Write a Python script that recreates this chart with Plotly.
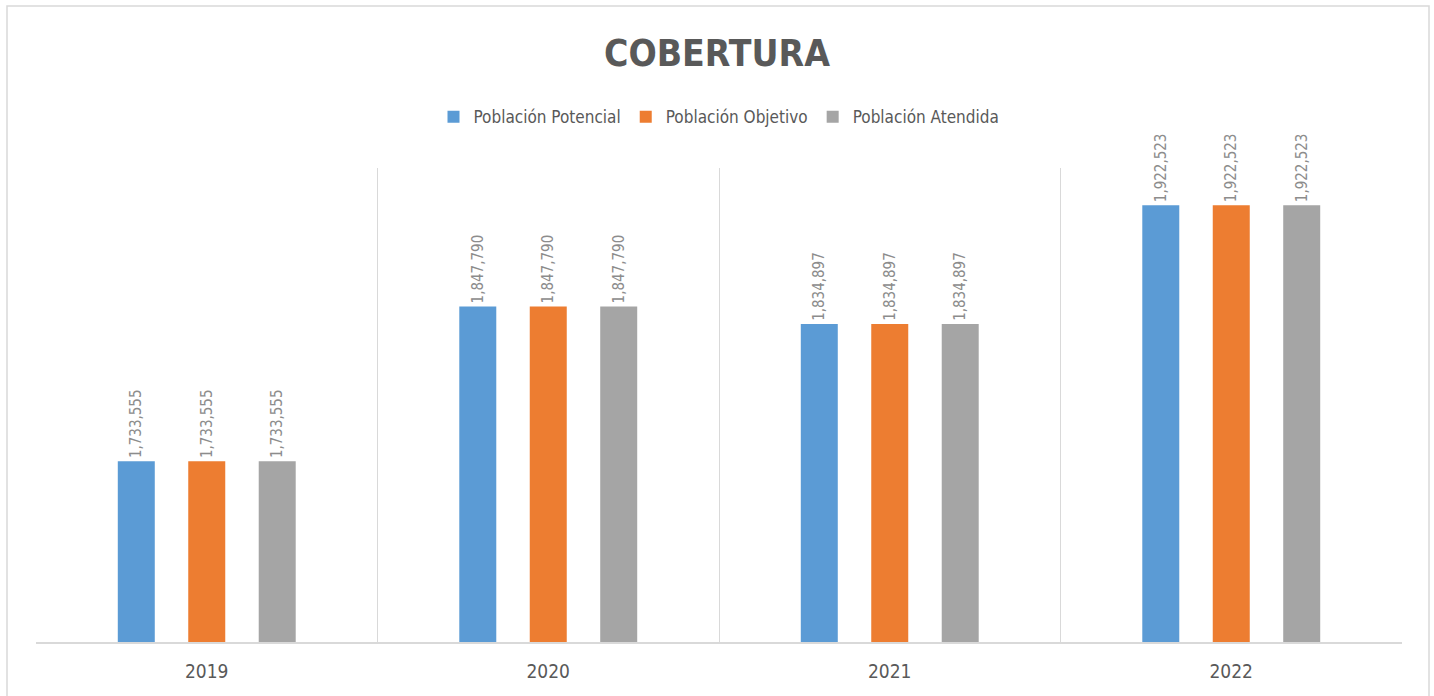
import plotly.graph_objects as go

years = ["2019", "2020", "2021", "2022"]
series_names = ["Población Potencial", "Población Objetivo", "Población Atendida"]
potencial = [1733555, 1847790, 1834897, 1922523]
objetivo = [1733555, 1847790, 1834897, 1922523]
atendida = [1733555, 1847790, 1834897, 1922523]
colors = ["#5B9BD5", "#ED7D31", "#A5A5A5"]

FONT = "DejaVu Sans Condensed, DejaVu Sans, sans-serif"

fig = go.Figure()
for name, vals, col in zip(series_names, [potencial, objetivo, atendida], colors):
    fig.add_trace(go.Bar(
        x=years, y=vals, name=name, marker_color=col, marker_line_width=0,
        text=[f"{v:,}" for v in vals], textposition="outside", textangle=-90,
        constraintext="none",
        textfont=dict(family=FONT, size=15, color="#8C8C8C"),
        cliponaxis=False,
    ))

fig.update_layout(
    width=1434, height=696,
    margin=dict(l=36, r=32, t=168, b=54),
    paper_bgcolor="white", plot_bgcolor="white",
    barmode="group", bargap=0.381, bargroupgap=0.475,
    title=dict(text="<b>COBERTURA</b>", x=0.5, xanchor="center", y=0.924, yanchor="middle",
               font=dict(family=FONT, size=37, color="#595959")),
    legend=dict(orientation="h", x=0.5, xanchor="center", y=1.107, yanchor="middle",
                font=dict(family=FONT, size=17, color="#595959"), itemwidth=30,
                traceorder="normal"),
    font=dict(family=FONT),
    showlegend=True,
)
fig.update_xaxes(
    type="category", tickson="boundaries", showgrid=True, gridcolor="#D9D9D9", gridwidth=1,
    showline=True, linecolor="#D9D9D9", linewidth=1.5, ticks="",
    tickfont=dict(family=FONT, size=19, color="#595959"), ticklabelstandoff=11,
)
fig.update_yaxes(range=[1600000, 1950000], showgrid=False, showticklabels=False,
                 zeroline=False, showline=False)

# outer chart border
fig.add_shape(type="rect", xref="paper", yref="paper",
              x0=(7 - 36) / 1366, x1=(1429 - 36) / 1366,
              y0=(642 - 705) / 474, y1=(642 - 6) / 474,
              line=dict(color="#D9D9D9", width=1.5), fillcolor="rgba(0,0,0,0)", layer="below")

fig.write_html("out.html", config={"displayModeBar": False},
               post_script="document.body.style.margin='0';")
